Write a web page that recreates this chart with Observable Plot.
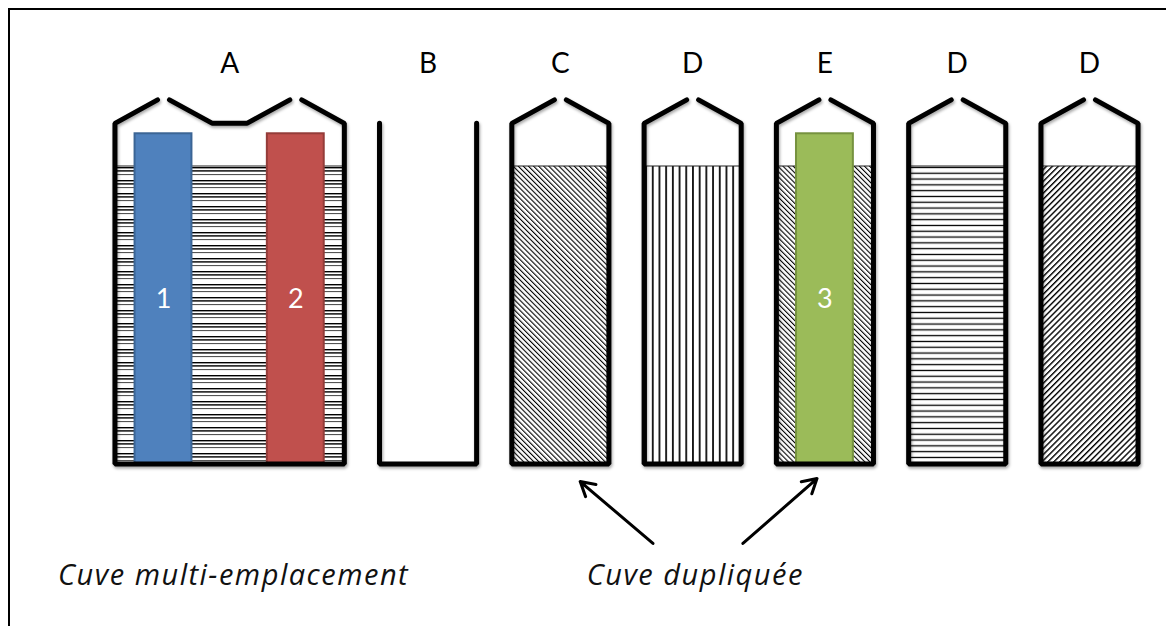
<!DOCTYPE html>
<html><head><meta charset="utf-8">
<script src="https://cdn.jsdelivr.net/npm/d3@7"></script>
<script src="https://cdn.jsdelivr.net/npm/@observablehq/plot@0.6"></script>
<style>
body{margin:0;background:#fff;}
#wrap{position:relative;width:1166px;height:626px;overflow:hidden;}
#frame{position:absolute;left:8px;top:8px;width:1300px;height:800px;border-top:2px solid #000;border-left:2px solid #000;}
#chart{position:absolute;left:0;top:0;}
</style></head><body>
<div id="wrap"><div id="frame"></div><div id="chart"></div></div>
<script>
// ---- Data ----
const tankLabels    = ["A", "B", "C", "D", "E", "D", "D"];
const tankSlotStart = [0, 2, 3, 4, 5, 6, 7];
const tankSlotEnd   = [1, 2, 3, 4, 5, 6, 7];
const tankRoof      = ["closed", "open", "closed", "closed", "closed", "closed", "closed"];
const tankPattern   = ["hatch-a", null, "hatch-back", "hatch-vert", "hatch-back", "hatch-horiz", "hatch-fwd"];
const tankLevel     = [100, 0, 100, 100, 100, 100, 100];   // liquid level (%)
const wallHeight = 114.5;   // wall height (% of liquid level scale)
const roofHeight = 122.4;   // roof peak height

const insertLabels = ["1", "2", "3"];
const insertSlots  = [0, 1, 5];
const insertHeight = [111, 111, 111];
const insertFill   = ["#4F81BD", "#C0504D", "#9BBB59"];
const insertStroke = ["#3B6595", "#943C39", "#76923F"];

const noteTexts = ["Cuve multi-emplacement", "Cuve dupliquée"];
const noteX = [0.53, 4.02];
const noteY = [-37.5, -37.5];
const arrowX1 = [3.70, 4.38], arrowY1 = [-26.7, -26.7];
const arrowX2 = [3.15, 4.94], arrowY2 = [-5.9, -4.9];

// ---- Geometry helpers (in slot units) ----
const HW = 0.367, GAP = 0.045, VALLEY = 0.13, IHW = 0.215;

const tanks = tankLabels.map((label, i) => ({
  label, s0: tankSlotStart[i], s1: tankSlotEnd[i], roof: tankRoof[i],
  pattern: tankPattern[i], level: tankLevel[i]
}));

const outline = [];
tanks.forEach((t, i) => {
  const id = "t" + i;
  const pts = [];
  if (t.roof === "closed") pts.push([t.s0 - GAP, roofHeight]);
  pts.push([t.s0 - HW, wallHeight], [t.s0 - HW, 0], [t.s1 + HW, 0], [t.s1 + HW, wallHeight]);
  if (t.roof === "closed") pts.push([t.s1 + GAP, roofHeight]);
  pts.forEach(([x, y]) => outline.push({id, x, y}));
  if (t.roof === "closed") {
    for (let k = t.s0; k < t.s1; k++) {
      const mid = (k + k + 1) / 2, vid = id + "v" + k;
      [[k + GAP, roofHeight], [mid - VALLEY, wallHeight], [mid + VALLEY, wallHeight], [k + 1 - GAP, roofHeight]]
        .forEach(([x, y]) => outline.push({id: vid, x, y}));
    }
  }
});

const liquids = tanks.filter(t => t.pattern && t.level > 0);
const inserts = insertLabels.map((label, i) => ({label, x: insertSlots[i], h: insertHeight[i], fill: insertFill[i], stroke: insertStroke[i]}));
const notes = noteTexts.map((text, i) => ({text, x: noteX[i], y: noteY[i]}));
const arrows = arrowX1.map((x1, i) => ({x1, y1: arrowY1[i], x2: arrowX2[i], y2: arrowY2[i]}));

const FONT = "Lato, 'Open Sans', sans-serif";
const NOTE_FONT = "'Open Sans', Lato, sans-serif";

const svg = Plot.plot({
  width: 1166, height: 626,
  margin: 0,
  x: {domain: [0, 7], range: [163, 1089], axis: null},
  y: {domain: [0, 100], range: [463.5, 166], axis: null},
  color: {type: "identity"},
  style: {fontFamily: FONT, background: "transparent", overflow: "visible"},
  marks: [
    Plot.rect(liquids, {x1: d => d.s0 - HW, x2: d => d.s1 + HW, y1: 0, y2: d => d.level,
      fill: d => `url(#${d.pattern})`, stroke: "#222", strokeWidth: 1}),
    Plot.rect(inserts, {x1: d => d.x - IHW, x2: d => d.x + IHW, y1: 0, y2: d => d.h,
      fill: d => d.fill, stroke: d => d.stroke, strokeWidth: 2}),
    Plot.text(inserts, {x: "x", y: d => d.h / 2, text: "label", fill: "white", fontSize: 27, fontFamily: FONT}),
    Plot.line(outline, {x: "x", y: "y", z: "id", stroke: "#000", strokeWidth: 5,
      strokeLinejoin: "miter", strokeLinecap: "round"}),
    Plot.text(tanks, {x: d => (d.s0 + d.s1) / 2, y: 134.3, text: "label", fontSize: 28, fill: "#000", fontFamily: FONT}),
    Plot.arrow(arrows, {x1: "x1", y1: "y1", x2: "x2", y2: "y2", stroke: "#000", strokeWidth: 3}),
    Plot.text(notes, {x: "x", y: "y", text: "text", fontSize: 29, fontStyle: "italic", fill: "#111", fontFamily: NOTE_FONT})
  ]
});

// patterns & shadow
const defs = d3.select(svg).insert("defs", ":first-child");
function pat(id, w, h, attrs, rects) {
  const p = defs.append("pattern").attr("id", id).attr("patternUnits", "userSpaceOnUse").attr("width", w).attr("height", h);
  Object.entries(attrs).forEach(([k, v]) => p.attr(k, v));
  p.append("rect").attr("width", w).attr("height", h).attr("fill", "#fff");
  rects.forEach(r => p.append("rect").attr("x", r[0]).attr("y", r[1]).attr("width", r[2]).attr("height", r[3]).attr("fill", r[4] || "#000"));
}
pat("hatch-a", 10, 13, {y: 166}, [[0, 1, 10, 1.4], [0, 4.2, 10, 1.4], [0, 8, 10, 1.1, "#555"]]);
pat("hatch-horiz", 10, 5.8, {y: 166}, [[0, 0.8, 10, 1.3]]);
pat("hatch-vert", 6.7, 10, {}, [[2, 0, 1.7, 10]]);
pat("hatch-back", 3.6, 10, {patternTransform: "rotate(-45)"}, [[0, 0, 1.1, 10]]);
pat("hatch-fwd", 4.2, 10, {patternTransform: "rotate(45)"}, [[0, 0, 1.4, 10]]);
const f = defs.append("filter").attr("id", "shadow").attr("x", "-10%").attr("y", "-10%").attr("width", "120%").attr("height", "120%");
f.append("feDropShadow").attr("dx", 1).attr("dy", 2).attr("stdDeviation", 1.5).attr("flood-opacity", 0.35);
d3.select(svg).selectAll('g[aria-label="line"]').attr("filter", "url(#shadow)");
// widen the italic notes slightly (letter spacing) to match the reference
d3.select(svg).selectAll('g[aria-label="text"]').filter((d, i, n) => n[i].getAttribute("font-style") === "italic")
  .attr("letter-spacing", "1.5px");

document.getElementById("chart").appendChild(svg);
</script>
</body></html>
